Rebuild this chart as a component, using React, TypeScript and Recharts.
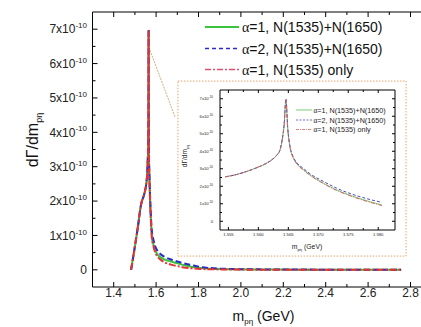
import React from 'react';
import { LineChart, Line, XAxis, YAxis, ReferenceArea, ReferenceLine } from 'recharts';

// ---- main panel data (dΓ/dm in units of 1e-10) ----
const massMain = [1.482, 1.49, 1.5, 1.51, 1.518, 1.525, 1.532, 1.54, 1.548, 1.5545, 1.558, 1.56, 1.562, 1.563, 1.5636, 1.564, 1.5643, 1.5646, 1.5649, 1.5653, 1.5658, 1.5664, 1.5686, 1.571, 1.5756, 1.5806, 1.587, 1.595, 1.605, 1.62, 1.64, 1.67, 1.7, 1.73, 1.765, 1.81, 1.87, 1.95, 2.1, 2.3, 2.5, 2.756];
const alpha1Both = [0, 0.3, 0.68, 1.08, 1.42, 1.75, 1.98, 2.12, 2.3, 2.54, 2.8, 3.1, 3.45, 3.75, 4.06, 4.7, 5.5, 6.95, 5.3, 4.2, 3.65, 3.3, 2.65, 2.15, 1.45, 0.93, 0.75, 0.58, 0.46, 0.37, 0.3, 0.24, 0.19, 0.14, 0.09, 0.05, 0.03, 0.015, 0.008, 0.004, 0.002, 0.001];
const alpha2Both = [0, 0.3, 0.68, 1.08, 1.42, 1.75, 1.98, 2.12, 2.3, 2.54, 2.8, 3.1, 3.45, 3.75, 4.06, 4.7, 5.5, 7.0, 5.35, 4.25, 3.7, 3.35, 2.72, 2.25, 1.55, 1.08, 0.88, 0.7, 0.57, 0.46, 0.38, 0.3, 0.24, 0.19, 0.14, 0.08, 0.045, 0.025, 0.012, 0.006, 0.003, 0.001];
const alpha1Only = [0, 0.3, 0.68, 1.08, 1.42, 1.75, 1.98, 2.12, 2.3, 2.54, 2.8, 3.1, 3.45, 3.75, 4.06, 4.7, 5.5, 6.95, 5.3, 4.2, 3.64, 3.28, 2.63, 2.13, 1.42, 0.9, 0.7, 0.52, 0.4, 0.3, 0.22, 0.15, 0.11, 0.07, 0.045, 0.025, 0.015, 0.008, 0.004, 0.002, 0.001, 0.0005];

// ---- inset panel data ----
const massInset = [1.5545, 1.556, 1.558, 1.56, 1.561, 1.562, 1.563, 1.5636, 1.564, 1.5643, 1.5646, 1.5649, 1.5653, 1.5658, 1.5664, 1.5675, 1.5686, 1.571, 1.573, 1.5756, 1.578, 1.5806];
const insetAlpha1Both = [2.54, 2.64, 2.84, 3.1, 3.25, 3.45, 3.75, 4.06, 4.7, 5.5, 6.95, 5.3, 4.2, 3.65, 3.3, 2.95, 2.65, 2.15, 1.8, 1.45, 1.18, 0.93];
const insetAlpha2Both = [2.54, 2.64, 2.84, 3.1, 3.25, 3.45, 3.75, 4.06, 4.7, 5.5, 7.0, 5.35, 4.25, 3.7, 3.35, 3.02, 2.72, 2.25, 1.9, 1.55, 1.3, 1.08];
const insetAlpha1Only = [2.54, 2.64, 2.84, 3.1, 3.25, 3.45, 3.75, 4.06, 4.7, 5.5, 6.95, 5.3, 4.2, 3.64, 3.28, 2.93, 2.63, 2.13, 1.77, 1.42, 1.15, 0.9];

// ---- ticks ----
const mainXTicks = [1.4, 1.5, 1.6, 1.7, 1.8, 1.9, 2.0, 2.1, 2.2, 2.3, 2.4, 2.5, 2.6, 2.7, 2.8];
const mainXLabels = ['1.4', '1.6', '1.8', '2.0', '2.2', '2.4', '2.6', '2.8'];
const mainYTicks = [0, 0.5, 1, 1.5, 2, 2.5, 3, 3.5, 4, 4.5, 5, 5.5, 6, 6.5, 7];
const insetXTicks = [1.555, 1.5575, 1.56, 1.5625, 1.565, 1.5675, 1.57, 1.5725, 1.575, 1.5775, 1.58];
const insetXLabels = ['1.555', '1.560', '1.565', '1.570', '1.575', '1.580'];
const insetYTicks = mainYTicks;

const seriesNames = ['α=1, N(1535)+N(1650)', 'α=2, N(1535)+N(1650)', 'α=1, N(1535) only'];

const mainData = massMain.map((m, i) => ({ m, a: alpha1Both[i], b: alpha2Both[i], c: alpha1Only[i] }));
const insetData = massInset.map((m, i) => ({ m, a: insetAlpha1Both[i], b: insetAlpha2Both[i], c: insetAlpha1Only[i] }));

const FONT = '"Liberation Sans", Arial, sans-serif';
const GREEN = '#3cc43c';
const BLUE = '#2a2ac8';
const RED = '#e53232';

const matchLabel = (v: number, labels: string[], digits: number) => {
  const s = v.toFixed(digits);
  return labels.includes(s) ? s : null;
};

const makeXTick = (labels: string[], digits: number, major: number, minor: number, fs: number, dy: number, top: boolean) => (props: any) => {
  const { x, y, payload } = props;
  const lab = matchLabel(payload.value, labels, digits);
  const len = lab ? major : minor;
  return (
    <g>
      <line x1={x} x2={x} y1={y} y2={top ? y + len : y - len} stroke="#000" strokeWidth={1} />
      {!top && lab && (
        <text x={x} y={y + dy} textAnchor="middle" fontSize={fs} fontFamily={FONT} fill="#222">{lab}</text>
      )}
    </g>
  );
};

const makeYTick = (major: number, minor: number, fs: number, sup: number, gap: number, right: boolean) => (props: any) => {
  const { x, y, payload } = props;
  const v = payload.value;
  const isInt = Math.abs(v - Math.round(v)) < 1e-9;
  const len = isInt ? major : minor;
  return (
    <g>
      <line x1={x} x2={right ? x - len : x + len} y1={y} y2={y} stroke="#000" strokeWidth={1} />
      {!right && isInt && (
        <text x={x - gap} y={y + fs * 0.35} textAnchor="end" fontSize={fs} fontFamily={FONT} fill="#222">
          {v === 0 ? '0' : (
            <>
              <tspan>{`${v}x10`}</tspan>
              <tspan fontSize={sup} dy={-fs * 0.42}>-10</tspan>
            </>
          )}
        </text>
      )}
    </g>
  );
};

const MainXTick = makeXTick(mainXLabels, 1, 5, 3, 12, 10, false);
const MainTopTick = makeXTick(mainXLabels, 1, 5, 3, 12, 10, true);
const MainYTick = makeYTick(5, 3, 12, 8, 5.5, false);
const InsetXTick = makeXTick(insetXLabels, 3, 3, 2, 4.2, 6, false);
const InsetTopTick = makeXTick(insetXLabels, 3, 3, 2, 4.2, 6, true);
const InsetYTick = makeYTick(3, 2, 4.2, 3, 7, false);
const InsetRightTick = makeYTick(3, 2, 4.2, 3, 7, true);

export default function App() {
  return (
    <div style={{ position: 'fixed', left: 0, top: 0, width: 421, height: 327, overflow: 'hidden', background: '#fff' }}>
      <div style={{ position: 'absolute', left: 0, top: 0 }}>
        <LineChart width={440} height={327} data={mainData} margin={{ top: 10, right: 8.3, bottom: 10, left: 52.5 }}>
          <XAxis dataKey="m" type="number" domain={[1.3, 2.9]} ticks={mainXTicks} interval={0} tickSize={0} tickMargin={0} height={30} tick={MainXTick} axisLine={{ stroke: '#000' }} allowDataOverflow />
          <XAxis xAxisId="top" orientation="top" dataKey="m" type="number" domain={[1.3, 2.9]} ticks={mainXTicks} interval={0} tickSize={0} tickMargin={0} height={2} tick={MainTopTick} axisLine={{ stroke: '#000' }} allowDataOverflow />
          <YAxis type="number" domain={[-0.5, 7.5]} ticks={mainYTicks} interval={0} tickSize={0} tickMargin={0} width={40} tick={MainYTick} axisLine={{ stroke: '#000' }} allowDataOverflow />
          <ReferenceArea x1={1.703} x2={2.779} y1={0.4} y2={5.49} fill="#fff" fillOpacity={1} stroke="#e6a36c" strokeDasharray="1.5 1.5" strokeWidth={1} />
          <ReferenceLine segment={[{ x: 1.571, y: 6.39 }, { x: 1.689, y: 4.45 }]} stroke="#d9a982" strokeDasharray="2 1" strokeWidth={1} />
          <Line dataKey="a" name={seriesNames[0]} type="monotone" stroke={GREEN} strokeWidth={2} dot={false} activeDot={false} isAnimationActive={false} />
          <Line dataKey="b" name={seriesNames[1]} type="monotone" stroke={BLUE} strokeWidth={2} strokeDasharray="6 3" dot={false} activeDot={false} isAnimationActive={false} />
          <Line dataKey="c" name={seriesNames[2]} type="monotone" stroke={RED} strokeWidth={2} strokeDasharray="7 2 2 2" dot={false} activeDot={false} isAnimationActive={false} />
        </LineChart>
      </div>
      <div style={{ position: 'absolute', left: 178, top: 81 }}>
        <LineChart width={229} height={175} data={insetData} margin={{ top: 7, right: 10, bottom: 6, left: 12 }}>
          <XAxis dataKey="m" type="number" domain={[1.5536, 1.5828]} ticks={insetXTicks} interval={0} tickSize={0} tickMargin={0} height={20} tick={InsetXTick} axisLine={{ stroke: '#000' }} allowDataOverflow />
          <XAxis xAxisId="top" orientation="top" dataKey="m" type="number" domain={[1.5536, 1.5828]} ticks={insetXTicks} interval={0} tickSize={0} tickMargin={0} height={2} tick={InsetTopTick} axisLine={{ stroke: '#000' }} allowDataOverflow />
          <YAxis type="number" domain={[-0.5, 7.5]} ticks={insetYTicks} interval={0} tickSize={0} tickMargin={0} width={30} tick={InsetYTick} axisLine={{ stroke: '#000' }} allowDataOverflow />
          <YAxis yAxisId="right" orientation="right" type="number" domain={[-0.5, 7.5]} ticks={insetYTicks} interval={0} tickSize={0} tickMargin={0} width={2} tick={InsetRightTick} axisLine={{ stroke: '#000' }} allowDataOverflow />
          <Line dataKey="a" name={seriesNames[0]} type="monotone" stroke="#78cf78" strokeWidth={1} dot={false} activeDot={false} isAnimationActive={false} />
          <Line dataKey="b" name={seriesNames[1]} type="monotone" stroke="#4a4ac0" strokeWidth={1} strokeDasharray="3 2" dot={false} activeDot={false} isAnimationActive={false} />
          <Line dataKey="c" name={seriesNames[2]} type="monotone" stroke="#d86060" strokeWidth={1} strokeDasharray="4 1.5 1 1.5" dot={false} activeDot={false} isAnimationActive={false} />
        </LineChart>
      </div>
      <svg width={421} height={327} style={{ position: 'absolute', left: 0, top: 0, pointerEvents: 'none' }}>
        <line x1={205} x2={239} y1={27} y2={27} stroke={GREEN} strokeWidth={2} />
        <line x1={205} x2={239} y1={48.5} y2={48.5} stroke={BLUE} strokeWidth={1.6} strokeDasharray="4 3" />
        <line x1={205} x2={239} y1={69.5} y2={69.5} stroke="#e0506a" strokeWidth={1.4} strokeDasharray="6 2 2 2" />
        {seriesNames.map((n, i) => (
          <text key={n} x={242} y={[27, 48.5, 69.5][i] + 5} fontSize={14} fontFamily={FONT} fill="#111">
            <tspan fontFamily='"Liberation Serif", serif'>α</tspan>{n.slice(1)}
          </text>
        ))}
        <text x={263.5} y={321} textAnchor="middle" fontSize={14} fontFamily={FONT} fill="#111">
          m<tspan fontSize={8} dy={2.5}>pη</tspan><tspan dy={-2.5}> (GeV)</tspan>
        </text>
        <text transform="translate(38,140) rotate(-90)" textAnchor="middle" fontSize={16} fontFamily={FONT} fill="#111">
          dΓ/dm<tspan fontSize={9} dy={4}>pη</tspan>
        </text>
        <line x1={296} x2={312} y1={110} y2={110} stroke="#78cf78" strokeWidth={1} />
        <line x1={296} x2={312} y1={120} y2={120} stroke="#4a4ac0" strokeWidth={0.8} strokeDasharray="2 1.5" />
        <line x1={296} x2={312} y1={129.5} y2={129.5} stroke="#d86060" strokeWidth={0.8} strokeDasharray="3 1 1 1" />
        {seriesNames.map((n, i) => (
          <text key={'i' + n} x={313.5} y={[110, 120, 129.5][i] + 2.6} fontSize={7.2} fontFamily={FONT} fill="#222">
            <tspan fontFamily='"Liberation Serif", serif'>α</tspan>{n.slice(1)}
          </text>
        ))}
        <text x={307} y={249} textAnchor="middle" fontSize={6.8} fontFamily={FONT} fill="#222">
          m<tspan fontSize={4.2} dy={1.5}>pη</tspan><tspan dy={-1.5}> (GeV)</tspan>
        </text>
        <text transform="translate(187,156) rotate(-90)" textAnchor="middle" fontSize={6.5} fontFamily={FONT} fill="#222">
          dΓ/dm<tspan fontSize={4} dy={1.5}>pη</tspan>
        </text>
      </svg>
    </div>
  );
}
